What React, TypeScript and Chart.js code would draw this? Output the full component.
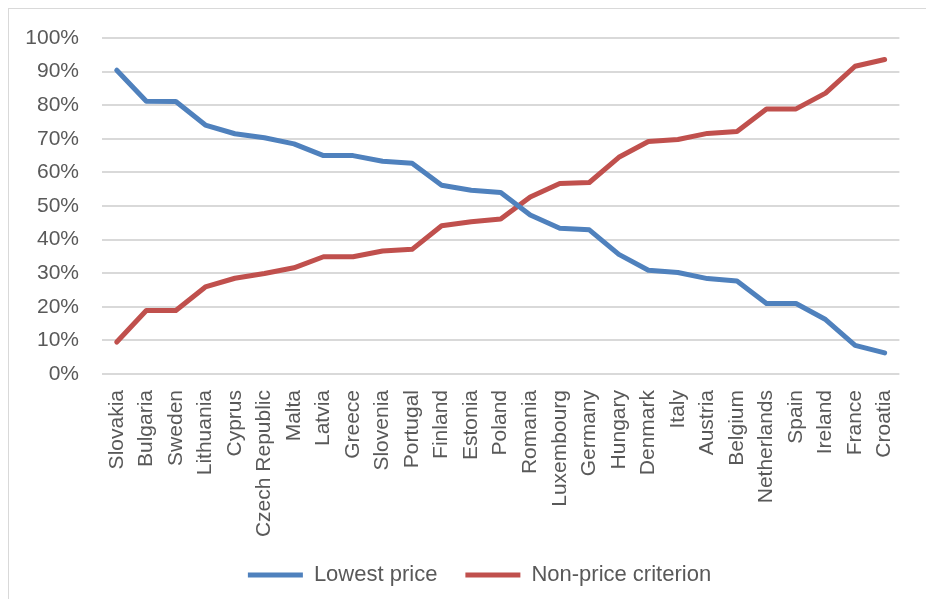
import React, { useEffect, useRef } from "react";
import { Chart, registerables } from "chart.js";

Chart.register(...registerables);

const countries = [
  "Slovakia", "Bulgaria", "Sweden", "Lithuania", "Cyprus", "Czech Republic", "Malta",
  "Latvia", "Greece", "Slovenia", "Portugal", "Finland", "Estonia", "Poland", "Romania",
  "Luxembourg", "Germany", "Hungary", "Denmark", "Italy", "Austria", "Belgium",
  "Netherlands", "Spain", "Ireland", "France", "Croatia",
];

const lowestPrice = [
  90.4, 81.2, 81.1, 74.1, 71.5, 70.3, 68.5, 65.0, 65.0, 63.3, 62.7, 56.2, 54.7, 54.0,
  47.3, 43.4, 42.9, 35.6, 30.9, 30.2, 28.4, 27.7, 21.0, 21.0, 16.2, 8.5, 6.3,
];

const nonPrice = [
  9.5, 18.9, 18.9, 25.9, 28.5, 29.9, 31.6, 34.9, 34.9, 36.6, 37.1, 44.1, 45.3, 46.1,
  52.7, 56.7, 57.0, 64.5, 69.2, 69.8, 71.6, 72.2, 78.9, 78.9, 83.6, 91.6, 93.6,
];

const seriesNames = ["Lowest price", "Non-price criterion"];
const seriesColors = ["#4f81bd", "#c0504d"];

const legendShift = {
  id: "legendShift",
  afterLayout(chart: any) {
    if (chart.legend) {
      chart.legend.left += 9;
      chart.legend.right += 9;
    }
  },
};

export default function App() {
  const canvasRef = useRef<HTMLCanvasElement | null>(null);

  useEffect(() => {
    if (!canvasRef.current) return;
    const font = "'Liberation Sans', Arial, sans-serif";
    const chart = new Chart(canvasRef.current, {
      type: "line",
      data: {
        labels: countries,
        datasets: [lowestPrice, nonPrice].map((d, i) => ({
          label: seriesNames[i],
          data: d,
          borderColor: seriesColors[i],
          backgroundColor: seriesColors[i],
          borderWidth: 5,
          borderCapStyle: "round" as const,
          borderJoinStyle: "round" as const,
          pointRadius: 0,
          pointHoverRadius: 0,
          tension: 0,
          fill: false,
        })),
      },
      plugins: [legendShift],
      options: {
        responsive: false,
        animation: false,
        layout: { padding: { top: 29, left: 15, right: 9, bottom: 3 } },
        plugins: {
          tooltip: { enabled: false },
          legend: {
            position: "bottom",
            labels: {
              boxWidth: 55,
              boxHeight: 5,
              padding: 28,
              color: "#595959",
              font: { family: font, size: 22 },
              generateLabels: (c: any) =>
                Chart.defaults.plugins.legend.labels
                  .generateLabels(c)
                  .map((l: any) => ({ ...l, lineWidth: 0 })),
            },
          },
        },
        scales: {
          x: {
            offset: true,
            grid: { display: false, drawTicks: false },
            border: { display: false },
            afterFit: (s: any) => {
              s.height = 162;
            },
            ticks: {
              autoSkip: false,
              maxRotation: 90,
              minRotation: 90,
              padding: 16,
              color: "#595959",
              font: { family: font, size: 21 },
            },
          },
          y: {
            min: 0,
            max: 100,
            afterFit: (s: any) => {
              s.width = 78;
              s.paddingTop = 13;
              s.paddingBottom = 13;
            },
            grid: { color: "#d9d9d9", lineWidth: 2, drawTicks: false },
            border: { display: false },
            ticks: {
              stepSize: 10,
              padding: 23,
              color: "#595959",
              font: { family: font, size: 21 },
              callback: (v: any) => v + "%",
            },
          },
        },
      },
    });
    return () => chart.destroy();
  }, []);

  return (
    <div
      style={{
        width: 918,
        height: 591,
        boxSizing: "border-box",
        borderTop: "1px solid #d9d9d9",
        borderLeft: "1px solid #d9d9d9",
        background: "#fff",
      }}
    >
      <canvas
        ref={canvasRef}
        width={917}
        height={590}
        style={{ display: "block", width: 917, height: 590 }}
      />
    </div>
  );
}
